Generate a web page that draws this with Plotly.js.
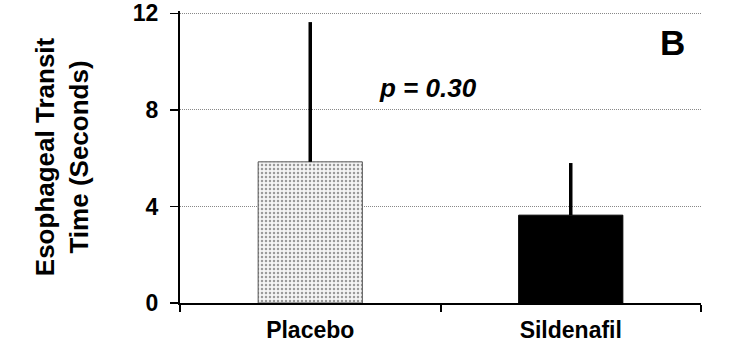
<!DOCTYPE html>
<html>
<head>
<meta charset="utf-8">
<script src="https://cdn.plot.ly/plotly-3.0.1.min.js"></script>
<style>html,body{margin:0;padding:0;background:#fff;}#chart{width:745px;height:352px;}</style>
</head>
<body>
<div id="chart"></div>
<script>
const categories = ["Placebo", "Sildenafil"];
const means = [5.85, 3.64];
const sdUpper = [5.79, 2.16];
const yTicks = [0, 4, 8, 12];
const pLabel = "p = 0.30";
const panelLabel = "B";

const fontFam = "Liberation Sans, Arial, sans-serif";

const traces = [
  {
    type: "bar",
    x: [categories[0]],
    y: [means[0]],
    width: 0.4,
    marker: {
      color: "#ffffff",
      line: {color: "#555555", width: 1},
      pattern: {shape: ".", fgcolor: "#9a9a9a", bgcolor: "#f4f4f4", size: 4, solidity: 0.3}
    },
    error_y: {type: "data", symmetric: false, array: [sdUpper[0]], arrayminus: [0], color: "#000", thickness: 3.5, width: 0},
    showlegend: false,
    hoverinfo: "skip"
  },
  {
    type: "bar",
    x: [categories[1]],
    y: [means[1]],
    width: 0.4,
    marker: {color: "#000000", line: {color: "#000", width: 1}},
    error_y: {type: "data", symmetric: false, array: [sdUpper[1]], arrayminus: [0], color: "#000", thickness: 3.5, width: 0},
    showlegend: false,
    hoverinfo: "skip"
  }
];

const layout = {
  width: 745,
  height: 352,
  margin: {l: 180, r: 44, t: 11.1, b: 49},
  paper_bgcolor: "#fff",
  plot_bgcolor: "#fff",
  barmode: "overlay",
  font: {family: fontFam, color: "#000"},
  xaxis: {
    type: "category",
    categoryorder: "array",
    categoryarray: categories,
    range: [-0.5, 1.5],
    showline: true,
    linecolor: "#000",
    linewidth: 2,
    ticks: "outside",
    tickson: "boundaries",
    ticklen: 7,
    tickwidth: 2,
    tickcolor: "#000",
    showgrid: false,
    ticklabelstandoff: 5,
    tickfont: {family: fontFam, size: 23, weight: "bold", color: "#000"},
    fixedrange: true
  },
  yaxis: {
    range: [0, 12.1],
    tickvals: yTicks,
    ticktext: yTicks.map(String),
    showline: true,
    linecolor: "#000",
    linewidth: 2,
    ticks: "outside",
    ticklen: 8,
    tickwidth: 1.5,
    tickcolor: "#000",
    showgrid: true,
    gridcolor: "#888",
    griddash: "1px,1px",
    gridwidth: 1,
    zeroline: false,
    ticklabelstandoff: 7,
    tickfont: {family: fontFam, size: 23, weight: "bold", color: "#000"},
    title: {text: "Esophageal Transit<br>Time (Seconds)", font: {family: fontFam, size: 26, weight: "bold", color: "#000"}, standoff: 37},
    fixedrange: true
  },
  annotations: [
    {xref: "paper", yref: "paper", x: 0.476, y: 0.737, text: pLabel, showarrow: false,
     font: {family: fontFam, size: 26, weight: "bold", style: "italic", color: "#000"}, xanchor: "center", yanchor: "middle"},
    {xref: "paper", yref: "paper", x: 0.946, y: 0.892, text: panelLabel, showarrow: false,
     font: {family: fontFam, size: 35, weight: "bold", color: "#000"}, xanchor: "center", yanchor: "middle"}
  ]
};

Plotly.newPlot("chart", traces, layout, {displayModeBar: false, staticPlot: true});
</script>
</body>
</html>
